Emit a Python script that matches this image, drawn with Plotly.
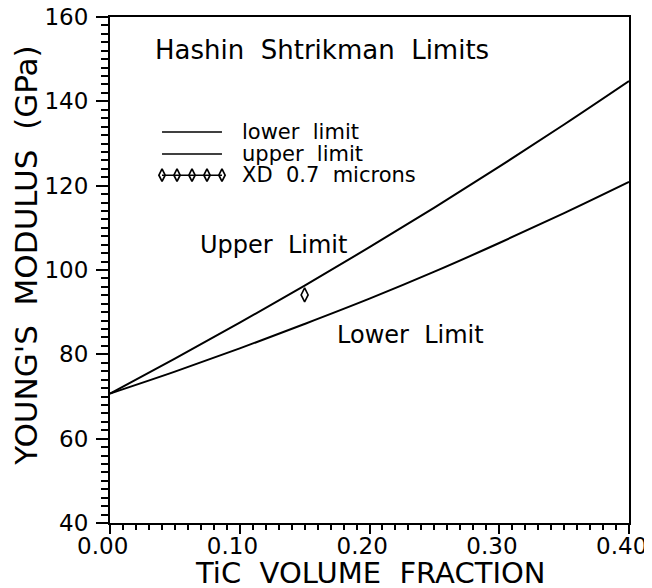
import plotly.graph_objects as go

# ---- data ----
vol_fraction = [0.00, 0.05, 0.10, 0.15, 0.20, 0.25, 0.30, 0.35, 0.40]
upper_limit = [70.7, 79.0, 87.5, 96.3, 105.4, 114.8, 124.5, 134.5, 144.8]
lower_limit = [70.7, 75.9, 81.4, 87.2, 93.2, 99.6, 106.4, 113.5, 120.9]
xd_x = [0.15]
xd_y = [94.1]

x_ticks = [0.0, 0.1, 0.2, 0.3, 0.4]
x_tick_labels = ["0.00", "0.10", "0.20", "0.30", "0.40"]
y_ticks = [40, 60, 80, 100, 120, 140, 160]

FONT = "DejaVu Sans"
BLACK = "black"
NBSP = "\u00a0"

fig = go.Figure()

fig.add_trace(go.Scatter(x=vol_fraction, y=lower_limit, mode="lines",
                         line=dict(color=BLACK, width=2, shape="spline"),
                         name="lower limit", showlegend=False))
fig.add_trace(go.Scatter(x=vol_fraction, y=upper_limit, mode="lines",
                         line=dict(color=BLACK, width=2, shape="spline"),
                         name="upper limit", showlegend=False))
fig.add_trace(go.Scatter(x=xd_x, y=xd_y, mode="markers",
                         marker=dict(symbol="diamond-tall-open", size=10,
                                     color=BLACK, line=dict(width=1.6, color=BLACK)),
                         name="XD 0.7 microns", showlegend=False))

# ---- custom legend (layout decoration, in data-space units of the axes) ----
LEG_X0, LEG_X1 = 0.0401, 0.0863
LEG_TEXT_X = 0.1002
LEG_Y = [132.7, 127.5, 122.5]
LEG_LABELS = ["lower  limit", "upper  limit", "XD  0.7  microns"]

for yy in LEG_Y[:2]:
    fig.add_shape(type="line", x0=LEG_X0, x1=LEG_X1, y0=yy, y1=yy,
                  xref="x", yref="y", line=dict(color=BLACK, width=1.5))
n_leg = 5
leg_dx = [LEG_X0 + i * (LEG_X1 - LEG_X0) / (n_leg - 1) for i in range(n_leg)]
fig.add_trace(go.Scatter(x=leg_dx, y=[LEG_Y[2]] * n_leg, mode="lines+markers",
                         line=dict(color=BLACK, width=1.5),
                         marker=dict(symbol="diamond-tall-open", size=9, color=BLACK,
                                     line=dict(width=1.7, color=BLACK)),
                         showlegend=False, hoverinfo="skip"))

annotations = []
for yy, lab in zip(LEG_Y, LEG_LABELS):
    annotations.append(dict(x=LEG_TEXT_X, y=yy, text=lab, xref="x", yref="y",
                            xanchor="left", yanchor="middle", showarrow=False,
                            font=dict(family=FONT, size=21, color=BLACK)))

annotations += [
    dict(x=0.0331, y=152.2, text="Hashin  Shtrikman  Limits", xref="x", yref="y",
         xanchor="left", yanchor="middle", showarrow=False,
         font=dict(family=FONT, size=26, color=BLACK)),
    dict(x=0.0678, y=105.9, text="Upper  Limit", xref="x", yref="y",
         xanchor="left", yanchor="middle", showarrow=False,
         font=dict(family=FONT, size=24, color=BLACK)),
    dict(x=0.1734, y=84.6, text="Lower  Limit", xref="x", yref="y",
         xanchor="left", yanchor="middle", showarrow=False,
         font=dict(family=FONT, size=24, color=BLACK)),
    dict(x=0.5, y=0.0, text="TiC  VOLUME  FRACTION", xref="paper", yref="paper",
         xanchor="center", yanchor="middle", yshift=-50, showarrow=False,
         font=dict(family=FONT, size=29, color=BLACK)),
    dict(x=0.0, y=0.528, text="YOUNG'S  MODULUS  (GPa)", xref="paper", yref="paper",
         xanchor="center", yanchor="middle", xshift=-84, textangle=-90, showarrow=False,
         font=dict(family=FONT, size=31, color=BLACK)),
]

fig.update_layout(
    width=652, height=588,
    margin=dict(l=102, r=31, t=9, b=73, autoexpand=False),
    paper_bgcolor="white", plot_bgcolor="white",
    font=dict(family=FONT, color=BLACK),
    annotations=annotations,
    showlegend=False,
)

fig.update_xaxes(range=[0, 0.4], tickvals=x_ticks,
                 ticktext=[t + NBSP * 2 for t in x_tick_labels],
                 showgrid=False, zeroline=False, automargin=False,
                 ticklabeloverflow="allow", ticklabelstandoff=-8,
                 showline=True, linecolor=BLACK, linewidth=2, mirror=True,
                 ticks="outside", ticklen=9, tickwidth=1.5, tickcolor=BLACK,
                 tickfont=dict(family=FONT, size=23, color=BLACK),
                 minor=dict(dtick=0.01, ticks="outside", ticklen=5, tickwidth=1.5,
                            tickcolor=BLACK, showgrid=False))
fig.update_yaxes(range=[40, 160], tickvals=y_ticks,
                 showgrid=False, zeroline=False, automargin=False,
                 ticklabeloverflow="allow", ticklabelstandoff=3,
                 showline=True, linecolor=BLACK, linewidth=2, mirror=True,
                 ticks="outside", ticklen=12, tickwidth=1.5, tickcolor=BLACK,
                 tickfont=dict(family=FONT, size=23, color=BLACK),
                 minor=dict(dtick=2, ticks="outside", ticklen=7, tickwidth=1.5,
                            tickcolor=BLACK, showgrid=False))

fig.write_html("out.html")
